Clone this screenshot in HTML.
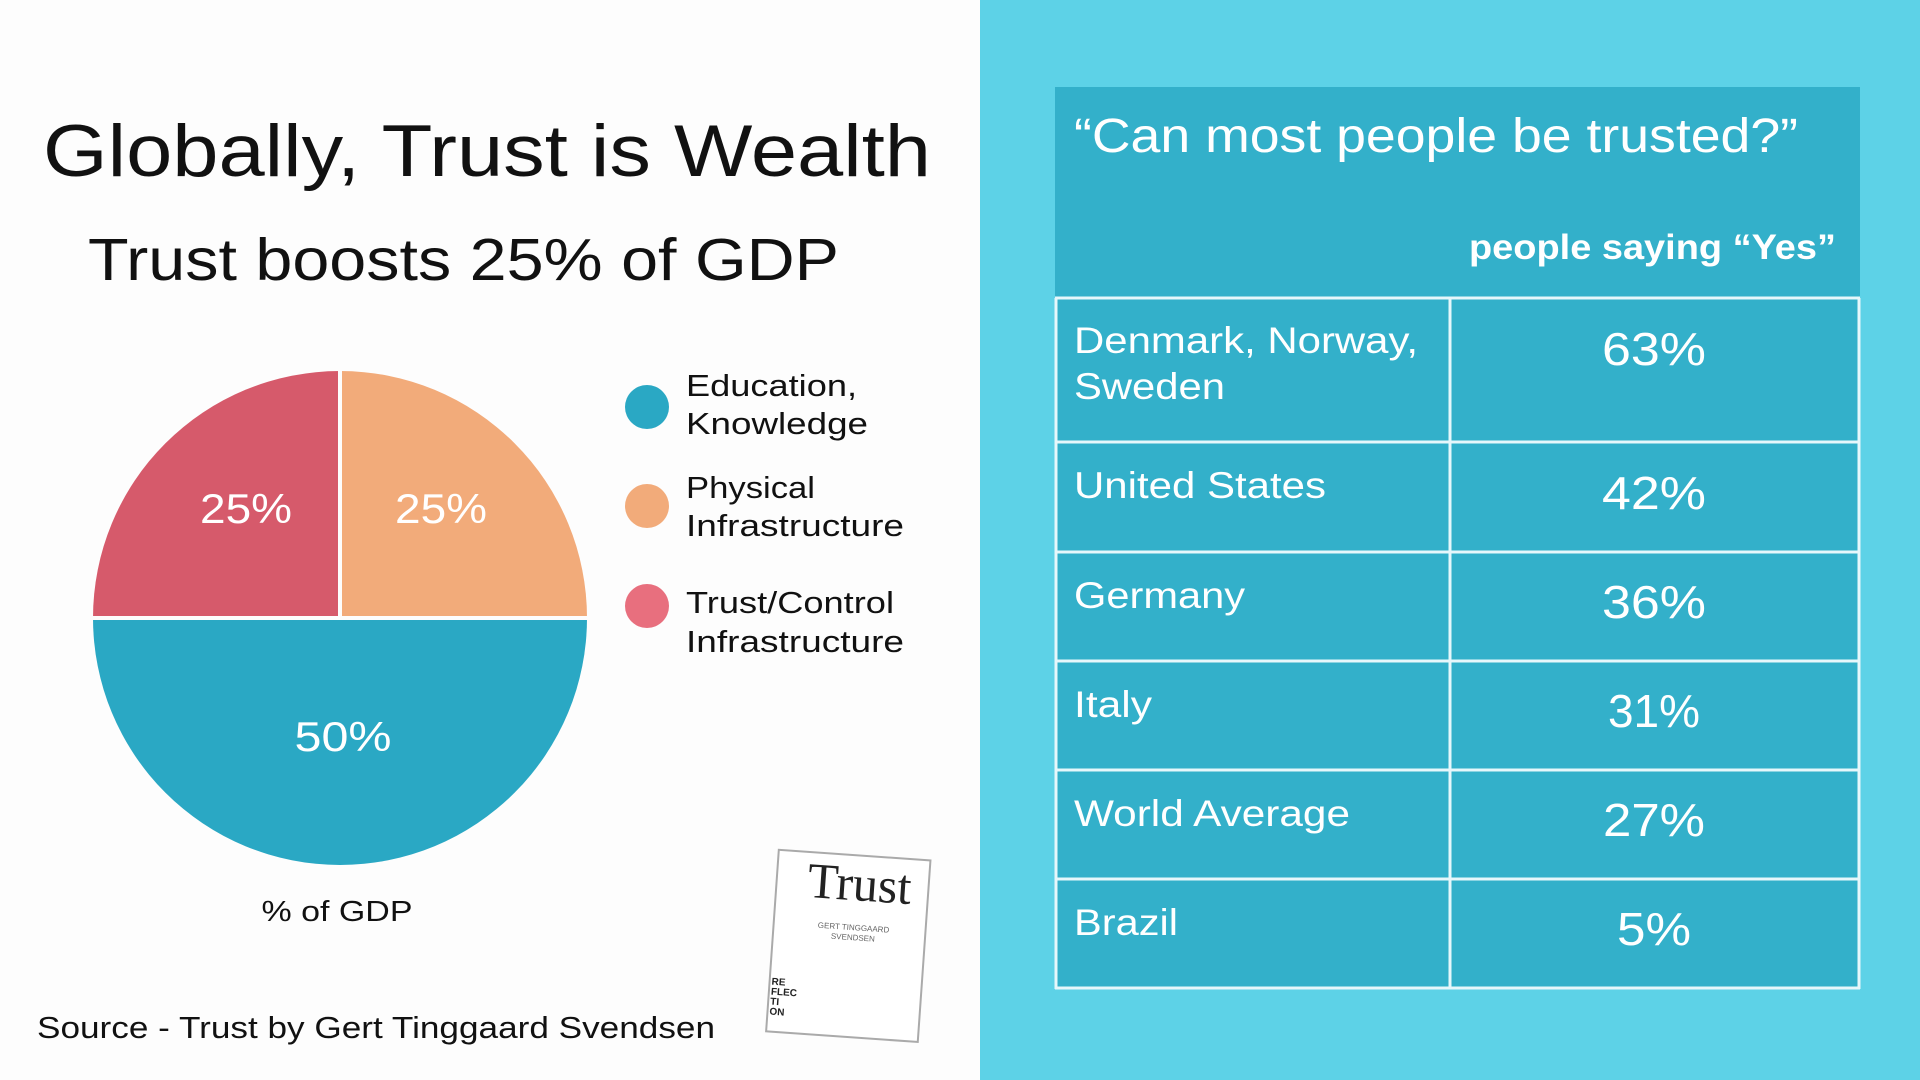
<!DOCTYPE html>
<html><head><meta charset="utf-8"><style>
html,body{margin:0;padding:0;width:1920px;height:1080px;overflow:hidden;background:#fdfdfd}
svg{display:block}
text{font-family:"Liberation Sans",sans-serif}
</style></head><body>
<svg width="1920" height="1080" viewBox="0 0 1920 1080" xmlns="http://www.w3.org/2000/svg">
<rect width="1920" height="1080" fill="#fdfdfd"/>
<rect x="980" y="0" width="940" height="1080" fill="#5dd2e7"/>
<text x="43" y="176" font-size="73" fill="#111" textLength="888" lengthAdjust="spacingAndGlyphs">Globally, Trust is Wealth</text>
<text x="88" y="280" font-size="59" fill="#111" textLength="751" lengthAdjust="spacingAndGlyphs">Trust boosts 25% of GDP</text>
<g transform="translate(340,618)">
<path d="M0,0 L-247,0 A247,247 0 0 1 0,-247 Z" fill="#d65a6b"/>
<path d="M0,0 L0,-247 A247,247 0 0 1 247,0 Z" fill="#f2ab7a"/>
<path d="M0,0 L247,0 A247,247 0 0 1 -247,0 Z" fill="#2aa8c4"/>
<line x1="0" y1="0" x2="0" y2="-250" stroke="#fdfdfd" stroke-width="4"/>
<line x1="-250" y1="0" x2="250" y2="0" stroke="#fdfdfd" stroke-width="4"/>
</g>
<g fill="#fff" font-size="42" text-anchor="middle">
<text x="246" y="523" textLength="92" lengthAdjust="spacingAndGlyphs">25%</text>
<text x="441" y="523" textLength="92" lengthAdjust="spacingAndGlyphs">25%</text>
<text x="343" y="751" textLength="97" lengthAdjust="spacingAndGlyphs">50%</text>
</g>
<text x="337" y="921" font-size="29" fill="#111" text-anchor="middle" textLength="151" lengthAdjust="spacingAndGlyphs">% of GDP</text>
<circle cx="647" cy="407" r="22" fill="#2aa8c4"/>
<circle cx="647" cy="506" r="22" fill="#f2ab7a"/>
<circle cx="647" cy="606" r="22" fill="#e86f7e"/>
<g font-size="31" fill="#111">
<text x="686" y="396" textLength="171" lengthAdjust="spacingAndGlyphs">Education,</text>
<text x="686" y="434" textLength="182" lengthAdjust="spacingAndGlyphs">Knowledge</text>
<text x="686" y="498" textLength="129" lengthAdjust="spacingAndGlyphs">Physical</text>
<text x="686" y="536" textLength="218" lengthAdjust="spacingAndGlyphs">Infrastructure</text>
<text x="686" y="613" textLength="208" lengthAdjust="spacingAndGlyphs">Trust/Control</text>
<text x="686" y="652" textLength="218" lengthAdjust="spacingAndGlyphs">Infrastructure</text>
</g>
<text x="37" y="1038" font-size="31" fill="#111" textLength="678" lengthAdjust="spacingAndGlyphs">Source - Trust by Gert Tinggaard Svendsen</text>
<g transform="rotate(4 850 950)">
<rect x="772" y="855" width="152" height="182" fill="#fff" stroke="#aaa" stroke-width="2"/>
<text x="855" y="900" style="font-family:'Liberation Serif',serif" font-size="50" fill="#222" text-anchor="middle">Trust</text>
<text x="852" y="930" font-size="8" fill="#666" text-anchor="middle">GERT TINGGAARD</text>
<text x="852" y="940" font-size="8" fill="#666" text-anchor="middle">SVENDSEN</text>
<text x="774" y="990" font-size="10" font-weight="bold" fill="#222">RE</text>
<text x="774" y="1000" font-size="10" font-weight="bold" fill="#222">FLEC</text>
<text x="774" y="1010" font-size="10" font-weight="bold" fill="#222">TI</text>
<text x="774" y="1020" font-size="10" font-weight="bold" fill="#222">ON</text>
</g>
<rect x="1055" y="87" width="805" height="902" fill="#33b0ca"/>
<g stroke="#e6f7fb" stroke-width="3" fill="none">
<line x1="1055" y1="298" x2="1860" y2="298"/>
<line x1="1055" y1="442" x2="1860" y2="442"/>
<line x1="1055" y1="552" x2="1860" y2="552"/>
<line x1="1055" y1="661" x2="1860" y2="661"/>
<line x1="1055" y1="770" x2="1860" y2="770"/>
<line x1="1055" y1="879" x2="1860" y2="879"/>
<line x1="1055" y1="988" x2="1860" y2="988"/>
<line x1="1056" y1="298" x2="1056" y2="989"/>
<line x1="1859" y1="298" x2="1859" y2="989"/>
<line x1="1450" y1="298" x2="1450" y2="989"/>
</g>
<g fill="#fff">
<text x="1074" y="152" font-size="48" textLength="724" lengthAdjust="spacingAndGlyphs">“Can most people be trusted?”</text>
<text x="1469" y="259" font-size="35" font-weight="bold" textLength="367" lengthAdjust="spacingAndGlyphs">people saying “Yes”</text>
<g font-size="37">
<text x="1074" y="353" textLength="344" lengthAdjust="spacingAndGlyphs">Denmark, Norway,</text>
<text x="1074" y="399" textLength="151" lengthAdjust="spacingAndGlyphs">Sweden</text>
<text x="1074" y="498" textLength="252" lengthAdjust="spacingAndGlyphs">United States</text>
<text x="1074" y="608" textLength="171" lengthAdjust="spacingAndGlyphs">Germany</text>
<text x="1074" y="717" textLength="78" lengthAdjust="spacingAndGlyphs">Italy</text>
<text x="1074" y="826" textLength="276" lengthAdjust="spacingAndGlyphs">World Average</text>
<text x="1074" y="935" textLength="104" lengthAdjust="spacingAndGlyphs">Brazil</text>
</g>
<g font-size="46" text-anchor="middle">
<text x="1654" y="365" textLength="104" lengthAdjust="spacingAndGlyphs">63%</text>
<text x="1654" y="509" textLength="104" lengthAdjust="spacingAndGlyphs">42%</text>
<text x="1654" y="618" textLength="104" lengthAdjust="spacingAndGlyphs">36%</text>
<text x="1654" y="727" textLength="92" lengthAdjust="spacingAndGlyphs">31%</text>
<text x="1654" y="836" textLength="102" lengthAdjust="spacingAndGlyphs">27%</text>
<text x="1654" y="945" textLength="74" lengthAdjust="spacingAndGlyphs">5%</text>
</g>
</g>
</svg>
</body></html>
